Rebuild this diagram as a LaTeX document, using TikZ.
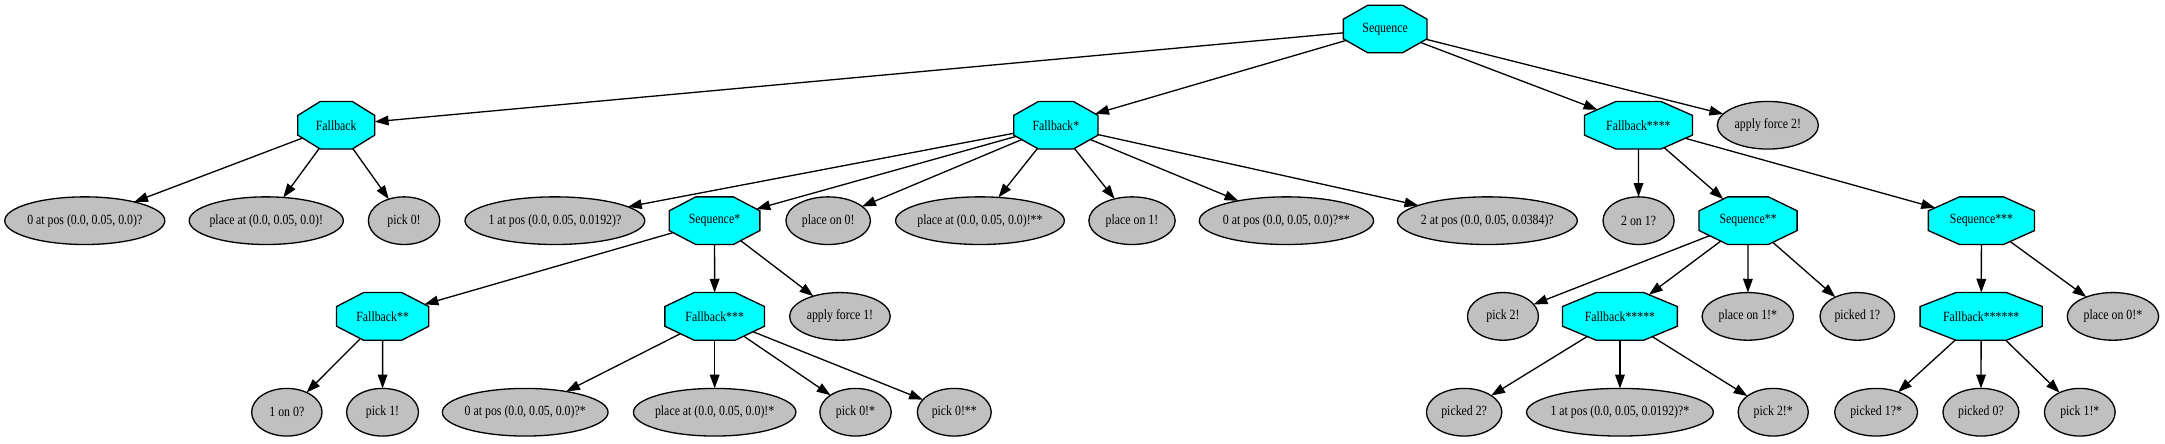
\documentclass[tikz,border=0pt]{standalone}
\usepackage{fontspec}
\setmainfont{Liberation Serif}[FakeStretch=0.84]
\usetikzlibrary{shapes.geometric,arrows.meta}
\definecolor{gvcyan}{RGB}{0,255,255}
\definecolor{gvgrey}{RGB}{192,192,192}
\newcommand{\gvfont}{\fontsize{10.2}{12}\selectfont}
\begin{document}
\begin{tikzpicture}[x=1pt,y=-1pt,
  oct/.style={regular polygon, regular polygon sides=8, minimum size=37.34pt, inner sep=0pt, outer sep=0pt, draw=black, fill=gvcyan, line width=0.95pt},
  leaf/.style={ellipse, minimum height=34.5pt, inner sep=0pt, outer sep=0pt, draw=black, fill=gvgrey, line width=0.95pt, font=\gvfont},
  lbl/.style={inner sep=0pt, font=\gvfont},
  edge/.style={line width=0.95pt, -{Triangle[length=10pt,width=7pt]}}]
\useasboundingbox (0,0) rectangle (1567.7,320.8);
% row 0
\node[oct, xscale=1.754] (s0) at (1003,21) {}; \node[lbl] (s0t) at (s0) {Sequence};
% row 1
\node[oct, xscale=1.614] (f0) at (243.5,90.7) {}; \node[lbl] (f0t) at (f0) {Fallback};
\node[oct, xscale=1.768] (f1) at (764.6,90.7) {}; \node[lbl] (f1t) at (f1) {Fallback*};
\node[oct, xscale=2.267] (f4) at (1186.4,90.7) {}; \node[lbl] (f4t) at (f4) {Fallback****};
\node[leaf, minimum width=73.2pt] (af2) at (1280.1,90.7) {\makebox[0pt]{apply force 2!}};
% row 2
\node[leaf, minimum width=115.9pt] (a1) at (61.4,159.8) {\makebox[0pt]{0 at pos (0.0, 0.05, 0.0)?}};
\node[leaf, minimum width=111.6pt] (a2) at (192.8,159.8) {\makebox[0pt]{place at (0.0, 0.05, 0.0)!}};
\node[leaf, minimum width=51.7pt] (a3) at (292.6,159.8) {\makebox[0pt]{pick 0!}};
\node[leaf, minimum width=130.2pt] (b1) at (401.8,159.8) {\makebox[0pt]{1 at pos (0.0, 0.05, 0.0192)?}};
\node[oct, xscale=1.904] (s1) at (517.4,159.8) {}; \node[lbl] (s1t) at (s1) {Sequence*};
\node[leaf, minimum width=61.2pt] (b3) at (599.7,159.8) {\makebox[0pt]{place on 0!}};
\node[leaf, minimum width=122.2pt] (b4) at (709.6,159.8) {\makebox[0pt]{place at (0.0, 0.05, 0.0)!**}};
\node[leaf, minimum width=62.5pt] (b5) at (819.7,159.8) {\makebox[0pt]{place on 1!}};
\node[leaf, minimum width=126.2pt] (b6) at (931.5,159.8) {\makebox[0pt]{0 at pos (0.0, 0.05, 0.0)?**}};
\node[leaf, minimum width=130.2pt] (b7) at (1077,159.8) {\makebox[0pt]{2 at pos (0.0, 0.05, 0.0384)?}};
\node[leaf, minimum width=51.5pt] (c1) at (1186.5,159.8) {\makebox[0pt]{2 on 1?}};
\node[oct, xscale=2.058] (s2) at (1265.8,159.8) {}; \node[lbl] (s2t) at (s2) {Sequence**};
\node[oct, xscale=2.229] (s3) at (1434.8,159.8) {}; \node[lbl] (s3t) at (s3) {Sequence***};
% row 3
\node[oct, xscale=1.936] (f2) at (277.1,229.1) {}; \node[lbl] (f2t) at (f2) {Fallback**};
\node[oct, xscale=2.090] (f3) at (517.5,229.1) {}; \node[lbl] (f3t) at (f3) {Fallback***};
\node[leaf, minimum width=72.9pt] (af1) at (608.2,229.1) {\makebox[0pt]{apply force 1!}};
\node[leaf, minimum width=51.4pt] (d1) at (1088.3,229.1) {\makebox[0pt]{pick 2!}};
\node[oct, xscale=2.412] (f5) at (1173,229.1) {}; \node[lbl] (f5t) at (f5) {Fallback*****};
\node[leaf, minimum width=66.2pt] (d3) at (1265.6,229.1) {\makebox[0pt]{place on 1!*}};
\node[leaf, minimum width=54pt] (d4) at (1344.9,229.1) {\makebox[0pt]{picked 1?}};
\node[oct, xscale=2.565] (f6) at (1434.6,229.1) {}; \node[lbl] (f6t) at (f6) {Fallback******};
\node[leaf, minimum width=66.2pt] (d6) at (1530,229.1) {\makebox[0pt]{place on 0!*}};
% row 4
\node[leaf, minimum width=51pt] (e1) at (207.7,298.5) {\makebox[0pt]{1 on 0?}};
\node[leaf, minimum width=52.1pt] (e2) at (277,298.5) {\makebox[0pt]{pick 1!}};
\node[leaf, minimum width=120pt] (e3) at (380.3,298.5) {\makebox[0pt]{0 at pos (0.0, 0.05, 0.0)?*}};
\node[leaf, minimum width=117.6pt] (e4) at (517.5,298.5) {\makebox[0pt]{place at (0.0, 0.05, 0.0)!*}};
\node[leaf, minimum width=51.7pt] (e5) at (619.5,298.5) {\makebox[0pt]{pick 0!*}};
\node[leaf, minimum width=53.5pt] (e6) at (691,298.5) {\makebox[0pt]{pick 0!**}};
\node[leaf, minimum width=54.6pt] (g1) at (1060.2,298.5) {\makebox[0pt]{picked 2?}};
\node[leaf, minimum width=135.2pt] (g2) at (1173,298.5) {\makebox[0pt]{1 at pos (0.0, 0.05, 0.0192)?*}};
\node[leaf, minimum width=50.8pt] (g3) at (1284,298.5) {\makebox[0pt]{pick 2!*}};
\node[leaf, minimum width=60pt] (h1) at (1358.5,298.5) {\makebox[0pt]{picked 1?*}};
\node[leaf, minimum width=55pt] (h2) at (1434.4,298.5) {\makebox[0pt]{picked 0?}};
\node[leaf, minimum width=51.2pt] (h3) at (1506,298.5) {\makebox[0pt]{pick 1!*}};
% edges
\draw[edge] (s0) -- (f0);
\draw[edge] (s0) -- (f1);
\draw[edge] (s0) -- (f4);
\draw[edge] (s0) -- (af2);
\draw[edge] (f0) -- (a1);
\draw[edge] (f0) -- (a2);
\draw[edge] (f0) -- (a3);
\draw[edge] (f1) -- (b1);
\draw[edge] (f1) -- (s1);
\draw[edge] (f1) -- (b3);
\draw[edge] (f1) -- (b4);
\draw[edge] (f1) -- (b5);
\draw[edge] (f1) -- (b6);
\draw[edge] (f1) -- (b7);
\draw[edge] (s1) -- (f2);
\draw[edge] (s1) -- (f3);
\draw[edge] (s1) -- (af1);
\draw[edge] (f2) -- (e1);
\draw[edge] (f2) -- (e2);
\draw[edge] (f3) -- (e3);
\draw[edge] (f3) -- (e4);
\draw[edge] (f3) -- (e5);
\draw[edge] (f3) -- (e6);
\draw[edge] (f4) -- (c1);
\draw[edge] (f4) -- (s2);
\draw[edge] (f4) -- (s3);
\draw[edge] (s2) -- (d1);
\draw[edge] (s2) -- (f5);
\draw[edge] (s2) -- (d3);
\draw[edge] (s2) -- (d4);
\draw[edge] (f5) -- (g1);
\draw[edge] (f5) -- (g2);
\draw[edge] (f5) -- (g3);
\draw[edge] (s3) -- (f6);
\draw[edge] (s3) -- (d6);
\draw[edge] (f6) -- (h1);
\draw[edge] (f6) -- (h2);
\draw[edge] (f6) -- (h3);
\end{tikzpicture}
\end{document}
